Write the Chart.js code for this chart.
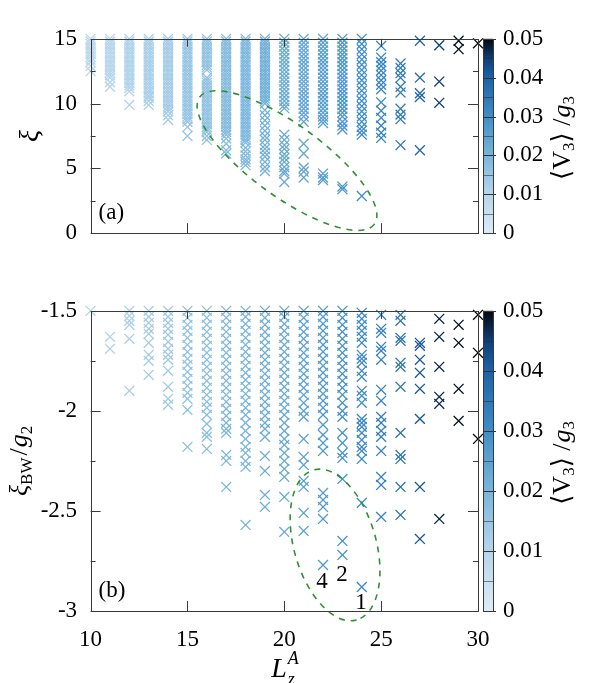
<!DOCTYPE html>
<html><head><meta charset="utf-8">
<script src="https://cdn.jsdelivr.net/npm/chart.js@4.4.1/dist/chart.umd.min.js"></script>
<style>
html,body{margin:0;padding:0;background:#fff;width:598px;height:683px;overflow:hidden}
.wrap{position:absolute;left:0;width:598px}
</style></head><body>
<div class="wrap" style="top:0;height:272px"><canvas id="ca" width="598" height="272"></canvas></div>
<div class="wrap" style="top:272px;height:411px"><canvas id="cb" width="598" height="411"></canvas></div>
<script>
// ---------- categories ----------
const L_CATS = [10,11,12,13,14,15,16,17,18,19,20,21,22,23,24,25,26,27,28,29,30];

// ---------- panel (a): xi values per L column ----------
const A10 = [15.0,14.8,14.6,14.4,14.2,14.0,13.8,13.6,13.4,13.2,12.9,12.5];
const A11 = [15.0,14.8,14.6,14.4,14.2,14.0,13.8,13.6,13.4,13.2,13.0,12.8,12.6,12.4,12.2,12.0,11.65,11.3];
const A12 = [15.0,14.8,14.6,14.4,14.2,14.0,13.8,13.6,13.4,13.2,13.0,12.8,12.6,12.4,12.2,12.0,11.8,11.6,11.4,11.2,10.95,9.9];
const A13 = [15.0,14.8,14.6,14.4,14.2,14.0,13.8,13.6,13.4,13.2,13.0,12.8,12.6,12.4,12.2,12.0,11.8,11.6,11.4,11.2,11.0,10.8,10.6,10.45,10.2,9.9];
const A14 = [15.0,14.8,14.6,14.4,14.2,14.0,13.8,13.6,13.4,13.2,13.0,12.8,12.6,12.4,12.2,12.0,11.8,11.6,11.4,11.2,11.0,10.8,10.6,10.4,10.2,10.0,9.8,9.6,9.4,9.1,8.75];
const A15 = [15.0,14.8,14.6,14.4,14.2,14.0,13.8,13.6,13.4,13.2,13.0,12.8,12.6,12.4,12.2,12.0,11.8,11.6,11.4,11.2,11.0,10.8,10.6,10.4,10.2,10.0,9.8,9.6,9.4,9.2,9.0,8.8,8.6,8.2,7.5];
const A16 = [15.0,14.8,14.6,14.4,14.2,14.0,13.8,13.6,13.4,13.2,13.0,12.8,12.6,12.0,11.8,11.6,11.4,11.2,11.0,10.8,10.6,10.4,10.2,10.0,9.8,9.6,9.4,9.2,9.0,8.8,8.6,8.4,8.2,8.0,7.8,7.5,7.2];
const A17 = [15.0,14.8,14.6,14.4,14.2,14.0,13.8,13.6,13.4,13.2,13.0,12.8,12.6,12.4,12.2,12.0,11.8,11.6,11.4,11.2,11.0,10.8,10.6,10.4,10.2,10.0,9.8,9.6,9.4,9.2,9.0,8.8,8.6,8.4,8.2,8.0,7.8,7.6,7.3,6.9,6.4,6.15];
const A18 = [15.0,14.8,14.6,14.4,14.2,14.0,13.8,13.6,13.4,13.2,13.0,12.8,12.6,12.4,12.2,12.0,11.8,11.6,11.4,11.2,11.0,10.8,10.6,10.4,10.2,10.0,9.8,9.6,9.4,9.2,9.0,8.8,8.6,8.4,8.2,8.0,7.8,7.6,7.4,7.2,7.0,6.6,6.3,6.0,5.7,5.5,5.25];
const A19 = [15.0,14.8,14.6,14.4,14.2,14.0,13.8,13.6,13.4,13.2,13.0,12.8,12.6,12.4,12.2,12.0,11.8,11.6,11.4,11.2,11.0,10.8,10.6,10.4,10.2,10.0,9.5,9.1,8.7,8.3,7.9,7.5,7.2,6.8,6.5,6.2,5.9,5.5,5.1,4.8];
const A20 = [15.0,14.7,14.4,14.1,13.8,13.5,13.2,12.9,12.6,12.3,12.0,11.7,11.4,11.1,10.8,10.5,10.2,9.9,9.65,7.6,7.2,6.8,6.5,6.1,5.8,5.5,5.1,4.8,4.6,3.95];
const A21 = [15.0,14.7,14.4,14.1,13.8,13.5,13.2,12.9,12.6,12.3,12.0,11.7,11.4,11.1,10.8,10.5,10.2,9.9,9.6,9.3,9.0,8.6,6.9,6.15,5.05,4.75,4.3];
const A22 = [15.0,14.7,14.4,14.1,13.8,13.5,13.2,12.9,12.6,12.3,12.0,11.7,11.4,11.1,10.8,10.5,10.2,9.9,9.6,9.3,9.0,8.75,8.5,4.6,4.3,4.1];
const A23 = [15.0,14.7,14.4,14.1,13.8,13.5,13.2,12.9,12.6,12.3,12.0,11.7,11.4,11.1,10.8,10.5,10.2,9.9,9.6,9.3,9.0,8.6,8.3,8.0,3.6,3.4];
const A24 = [15.0,14.6,14.2,13.8,13.4,13.0,12.6,12.2,11.8,11.4,11.0,10.6,10.2,9.8,9.4,9.0,8.6,8.2,7.9,7.6,2.87];
const A25 = [14.45,13.55,13.2,12.9,12.55,12.2,11.8,11.45,11.1,10.1,9.45,8.9,8.3,7.75,7.35];
const A26 = [13.1,12.75,12.35,12.0,11.3,10.85,9.6,9.15,8.8,6.8];
const A27 = [14.85,12.0,10.8,10.5,6.4];
const A28 = [14.5,11.7,10.06];
const A29 = [14.85,14.2];
const A30 = [14.65];
const XI_A = [A10,A11,A12,A13,A14,A15,A16,A17,A18,A19,A20,A21,A22,A23,A24,A25,A26,A27,A28,A29,A30];
// <V3>/g3 per column, panel (a)
const V3_A = [0.009,0.010,0.011,0.012,0.013,0.015,0.016,0.018,0.019,0.021,0.023,0.024,0.026,0.028,0.030,0.032,0.034,0.039,0.045,0.049,0.050];

// ---------- panel (b): xi_BW/g2 values per L column ----------
const B10 = [-1.5];
const B11 = [-1.63,-1.69];
const B12 = [-1.5,-1.525,-1.55,-1.57,-1.64,-1.9];
const B13 = [-1.5,-1.53,-1.56,-1.59,-1.615,-1.66,-1.72,-1.75,-1.82];
const B14 = [-1.5,-1.53,-1.56,-1.59,-1.62,-1.655,-1.69,-1.72,-1.745,-1.8,-1.88,-1.94,-1.97];
const B15 = [-1.5,-1.535,-1.57,-1.6,-1.635,-1.67,-1.705,-1.74,-1.77,-1.805,-1.84,-1.875,-1.91,-1.94,-1.995,-2.18];
const B16 = [-1.5,-1.535,-1.57,-1.605,-1.64,-1.675,-1.71,-1.745,-1.78,-1.815,-1.85,-1.885,-1.92,-1.955,-1.985,-2.02,-2.065,-2.11,-2.13,-2.19];
const B17 = [-1.5,-1.535,-1.57,-1.605,-1.64,-1.675,-1.71,-1.745,-1.78,-1.815,-1.85,-1.885,-1.92,-1.955,-1.99,-2.025,-2.06,-2.09,-2.11,-2.22,-2.25,-2.38];
const B18 = [-1.5,-1.53,-1.565,-1.6,-1.635,-1.67,-1.705,-1.74,-1.775,-1.81,-1.845,-1.88,-1.915,-1.95,-1.985,-2.02,-2.06,-2.1,-2.14,-2.18,-2.21,-2.25,-2.28,-2.57];
const B19 = [-1.5,-1.535,-1.57,-1.605,-1.64,-1.675,-1.71,-1.745,-1.78,-1.815,-1.85,-1.885,-1.92,-1.955,-1.99,-2.025,-2.06,-2.09,-2.13,-2.225,-2.3,-2.42,-2.48];
const B20 = [-1.5,-1.53,-1.565,-1.6,-1.635,-1.67,-1.705,-1.74,-1.775,-1.81,-1.845,-1.88,-1.915,-1.95,-1.985,-2.02,-2.06,-2.1,-2.14,-2.17,-2.21,-2.25,-2.29,-2.33,-2.43,-2.605];
const B21 = [-1.5,-1.535,-1.57,-1.605,-1.64,-1.675,-1.71,-1.745,-1.78,-1.815,-1.85,-1.885,-1.92,-1.96,-2.0,-2.03,-2.14,-2.23,-2.27,-2.35,-2.38,-2.51,-2.6];
const B22 = [-1.5,-1.53,-1.565,-1.6,-1.635,-1.67,-1.705,-1.74,-1.775,-1.81,-1.845,-1.88,-1.915,-1.95,-1.985,-2.02,-2.07,-2.12,-2.16,-2.2,-2.41,-2.445,-2.48,-2.54,-2.77];
const B23 = [-1.5,-1.535,-1.57,-1.605,-1.64,-1.675,-1.71,-1.745,-1.78,-1.815,-1.85,-1.885,-1.92,-1.96,-2.0,-2.03,-2.11,-2.16,-2.21,-2.235,-2.34,-2.65,-2.72];
const B24 = [-1.51,-1.54,-1.57,-1.6,-1.63,-1.66,-1.72,-1.74,-1.76,-1.8,-1.83,-1.9,-1.925,-1.96,-2.04,-2.06,-2.08,-2.11,-2.145,-2.18,-2.2,-2.24,-2.46,-2.88];
const B25 = [-1.52,-1.59,-1.61,-1.68,-1.7,-1.745,-1.895,-1.95,-2.03,-2.06,-2.1,-2.13,-2.2,-2.33,-2.37,-2.53];
const B26 = [-1.52,-1.55,-1.635,-1.65,-1.76,-1.78,-1.88,-2.11,-2.22,-2.24,-2.38,-2.52];
const B27 = [-1.66,-1.675,-1.745,-1.81,-1.89,-2.04,-2.38,-2.64];
const B28 = [-1.54,-1.63,-1.78,-1.93,-1.965,-2.54];
const B29 = [-1.57,-1.66,-1.89,-2.05];
const B30 = [-1.52,-1.71,-2.14];
const XI_B = [B10,B11,B12,B13,B14,B15,B16,B17,B18,B19,B20,B21,B22,B23,B24,B25,B26,B27,B28,B29,B30];
const V3_B = [0.010,0.011,0.012,0.013,0.014,0.016,0.017,0.019,0.020,0.022,0.023,0.025,0.027,0.029,0.031,0.033,0.036,0.042,0.047,0.049,0.050];

// ---------- ticks / labels ----------
const X_TICKS = [10,15,20,25,30];
const YA_TICKS = [0,5,10,15];
const YB_TICKS = [-3,-2.5,-2,-1.5];
const YB_LABELS = ['-3','-2.5','-2','-1.5'];
const CB_TICKS = [0,0.01,0.02,0.03,0.04,0.05];
const CB_LABELS = ['0','0.01','0.02','0.03','0.04','0.05'];
const ANNOT_TEXT = ['4','2','1'];

// ---------- palette ----------
const PAL_V = [0,0.01,0.02,0.03,0.04,0.045,0.05];
const PAL_C = [[220,235,247],[182,213,236],[121,181,220],[63,142,200],[29,98,169],[14,63,120],[5,7,13]];
function colorFor(v){
  if (v<=PAL_V[0]) return 'rgb('+PAL_C[0].join(',')+')';
  for (let i=1;i<PAL_V.length;i++){
    if (v<=PAL_V[i]){
      const t=(v-PAL_V[i-1])/(PAL_V[i]-PAL_V[i-1]);
      const a=PAL_C[i-1], b=PAL_C[i];
      return 'rgb('+a.map((c,k)=>Math.round(c+(b[k]-c)*t)).join(',')+')';
    }
  }
  return 'rgb('+PAL_C[PAL_C.length-1].join(',')+')';
}

function buildPoints(cols, v3){
  const pts=[];
  L_CATS.forEach((L,i)=>cols[i].forEach(v=>pts.push({x:L,y:v,c:v3[i]})));
  return pts;
}

const SERIF = '"Liberation Serif","DejaVu Serif","DejaVu Sans",serif';
const TICKFONT = {family:'"Liberation Serif","DejaVu Serif",serif', size:23};

function drawRich(ctx, parts, x, y, rot){
  ctx.save(); ctx.translate(x,y); ctx.rotate(rot);
  let w=0;
  parts.forEach(p=>{ctx.font=p.f; p.w=ctx.measureText(p.t).width+(p.sp||0); if(p.adv!==false) w+=p.w;});
  let cx=-w/2;
  ctx.fillStyle='#000'; ctx.textBaseline='alphabetic'; ctx.textAlign='left';
  parts.forEach(p=>{ctx.font=p.f; ctx.fillText(p.t,cx,p.dy||0); if(p.adv!==false) cx+=p.w;});
  ctx.restore();
}
function line(ctx,x1,y1,x2,y2){ctx.beginPath();ctx.moveTo(x1,y1);ctx.lineTo(x2,y2);ctx.stroke();}

const framePlugin = {
  id:'frame',
  afterDatasetsDraw(chart, args, o){
    const {ctx, chartArea:a, scales} = chart;
    const x=scales.x, y=scales.y, cb=scales.cb;
    ctx.save();
    // ellipse annotation
    const ecx=x.getPixelForValue(o.ell.cx), ecy=y.getPixelForValue(o.ell.cy);
    ctx.strokeStyle='#2e9330'; ctx.lineWidth=1.6; ctx.setLineDash([6,6]);
    ctx.beginPath(); ctx.ellipse(ecx,ecy,o.ell.a,o.ell.b,o.ell.rot*Math.PI/180,0,2*Math.PI); ctx.stroke();
    ctx.setLineDash([]);
    // frame
    ctx.strokeStyle='#3a3a3a'; ctx.lineWidth=1;
    ctx.strokeRect(Math.round(a.left)+0.5, Math.round(a.top)+0.5, Math.round(a.right-a.left), Math.round(a.bottom-a.top));
    // y ticks
    o.yMajor.forEach(v=>{const p=Math.round(y.getPixelForValue(v))+0.5; line(ctx,a.left,p,a.left+10,p); line(ctx,a.right,p,a.right-10,p);});
    o.yMinor.forEach(v=>{const p=Math.round(y.getPixelForValue(v))+0.5; line(ctx,a.left,p,a.left+5,p); line(ctx,a.right,p,a.right-5,p);});
    // x ticks
    o.xMajor.forEach(v=>{const p=Math.round(x.getPixelForValue(v))+0.5; line(ctx,p,a.bottom,p,a.bottom-10); line(ctx,p,a.top,p,a.top+8);});
    // colour bar
    const bx0=a.right+5, bx1=a.right+15;
    const by0=cb.getPixelForValue(0), by1=cb.getPixelForValue(0.05);
    const g=ctx.createLinearGradient(0,by0,0,by1);
    for(let i=0;i<=50;i++){const v=i*0.001; g.addColorStop(i/50,colorFor(v));}
    ctx.fillStyle=g; ctx.fillRect(bx0,by1,bx1-bx0,by0-by1);
    ctx.strokeStyle='rgba(40,40,40,0.55)';
    for(let i=1;i<10;i++){const p=Math.round(cb.getPixelForValue(i*0.005))+0.5; line(ctx,bx0,p,bx1,p);}
    ctx.strokeStyle='#333';
    CB_TICKS.forEach(v=>{const p=Math.round(cb.getPixelForValue(v))+0.5; line(ctx,bx0,p,bx1+3,p);});
    ctx.strokeStyle='#3a3a3a';
    ctx.strokeRect(Math.round(bx0)+0.5,Math.round(by1)+0.5,Math.round(bx1-bx0),Math.round(by0-by1));
    // panel label
    ctx.fillStyle='#000'; ctx.font='23px '+SERIF; ctx.textBaseline='alphabetic'; ctx.textAlign='left';
    ctx.fillText(o.panel, a.left+8, a.bottom-14);
    // annotations
    if (o.annot){
      ctx.textAlign='center'; ctx.textBaseline='middle'; ctx.font='23px '+SERIF;
      o.annot.forEach((q,i)=>ctx.fillText(ANNOT_TEXT[i], x.getPixelForValue(q[0]), y.getPixelForValue(q[1])));
    }
    // axis titles
    const cmid=(a.top+a.bottom)/2;
    drawRich(ctx,o.ytitle,o.ytitleX,cmid,-Math.PI/2);
    drawRich(ctx,[
      {t:'⟨V',f:'26px '+SERIF},{t:'3',f:'17px '+SERIF,dy:4},{t:'⟩ /',f:'26px '+SERIF,sp:1},
      {t:'g',f:'italic 26px '+SERIF},{t:'3',f:'17px '+SERIF,dy:4}],570,cmid+2,-Math.PI/2);
    if (o.xtitle){
      drawRich(ctx,o.xtitle,283,o.xtitleY,0);
    }
    ctx.restore();
  }
};

function ptsDataset(cols,v3){
  const pts=buildPoints(cols,v3);
  return {data:pts, pointStyle:'crossRot', pointRadius:7, pointHoverRadius:7, pointBorderWidth:1.3,
    borderWidth:1.3, pointBorderColor:pts.map(p=>colorFor(p.c)), pointBackgroundColor:'rgba(0,0,0,0)',
    showLine:false, clip:false};
}

function baseOptions(){
  return {responsive:false, animation:false, events:[],
    plugins:{legend:{display:false}, tooltip:{enabled:false}}};
}
function cbScale(){
  return {type:'linear', position:'right', min:0, max:0.05,
    afterBuildTicks(s){s.ticks=CB_TICKS.map(v=>({value:v}));},
    ticks:{font:TICKFONT, color:'#000', padding:25, callback:(v,i)=>CB_LABELS[i]},
    grid:{display:false, drawTicks:false}, border:{display:false},
    afterFit(s){s.width=120;}};
}

// ---------- chart (a) ----------
const optA = baseOptions();
optA.layout={padding:{top:21.5,bottom:21.3,left:0,right:0}};
optA.plugins.frame={panel:'(a)', yMajor:YA_TICKS, yMinor:[2.5,7.5,12.5], xMajor:[15,20,25],
  ell:{cx:20.14, cy:5.6, a:108, b:36, rot:36},
  ytitle:[{t:'ξ',f:'italic 28px '+SERIF,dy:7}], ytitleX:31};
optA.scales={
  x:{type:'linear', min:10, max:30, display:false},
  y:{type:'linear', min:0, max:15, afterBuildTicks(s){s.ticks=YA_TICKS.map(v=>({value:v}));},
     ticks:{font:TICKFONT, color:'#000', padding:13.5},
     grid:{display:false, drawTicks:false}, border:{display:false}, afterFit(s){s.width=90.6;}},
  cb:cbScale()
};
new Chart(document.getElementById('ca'),{type:'scatter', data:{datasets:[ptsDataset(XI_A,V3_A)]}, options:optA, plugins:[framePlugin]});

// ---------- chart (b) ----------
const optB = baseOptions();
optB.layout={padding:{top:21,bottom:0,left:0,right:0}};
optB.plugins.frame={panel:'(b)', yMajor:YB_TICKS, yMinor:[-2.75,-2.25,-1.75], xMajor:[15,20,25],
  ell:{cx:22.62, cy:-2.67, a:78, b:41, rot:74},
  annot:[[21.95,-2.855],[22.98,-2.82],[23.96,-2.958]],
  ytitle:[{t:'ξ',f:'italic 26px '+SERIF},{t:'BW',f:'17px '+SERIF,dy:5,sp:2},{t:'/',f:'26px '+SERIF,sp:1},
          {t:'g',f:'italic 26px '+SERIF},{t:'2',f:'17px '+SERIF,dy:5}], ytitleX:27,
  xtitle:[{t:'L',f:'italic 28px '+SERIF,sp:1},{t:'A',f:'italic 18px '+SERIF,dy:-13,adv:false},{t:'z',f:'italic 18px '+SERIF,dy:8}], xtitleY:405};
optB.scales={
  x:{type:'linear', min:10, max:30, afterBuildTicks(s){s.ticks=X_TICKS.map(v=>({value:v}));},
     ticks:{font:TICKFONT, color:'#000', padding:15, callback:(v)=>String(v)},
     grid:{display:false, drawTicks:false}, border:{display:false}, afterFit(s){s.height=72;}},
  y:{type:'linear', min:-3, max:-1.5, afterBuildTicks(s){s.ticks=YB_TICKS.map(v=>({value:v}));},
     ticks:{font:TICKFONT, color:'#000', padding:13.5, callback:(v,i)=>YB_LABELS[i]},
     grid:{display:false, drawTicks:false}, border:{display:false}, afterFit(s){s.width=90.6;}},
  cb:cbScale()
};
new Chart(document.getElementById('cb'),{type:'scatter', data:{datasets:[ptsDataset(XI_B,V3_B)]}, options:optB, plugins:[framePlugin]});
</script>
</body></html>
